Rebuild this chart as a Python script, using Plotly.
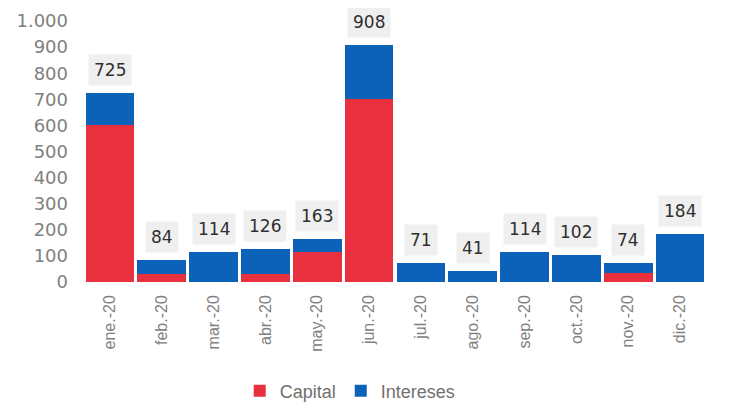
import plotly.graph_objects as go

months = ["ene.-20", "feb.-20", "mar.-20", "abr.-20", "may.-20", "jun.-20",
          "jul.-20", "ago.-20", "sep.-20", "oct.-20", "nov.-20", "dic.-20"]
totals = [725, 84, 114, 126, 163, 908, 71, 41, 114, 102, 74, 184]
capital = [600, 30, 0, 30, 115, 700, 0, 0, 0, 0, 35, 0]
intereses = [t - c for t, c in zip(totals, capital)]
y_ticks = [0, 100, 200, 300, 400, 500, 600, 700, 800, 900, 1000]
y_tick_text = ["0", "100", "200", "300", "400", "500", "600", "700", "800", "900", "1.000"]

RED = "#E8303E"
BLUE = "#0C62B9"
SANS = "Liberation Sans, Arial, sans-serif"
WIDE = "DejaVu Sans, Verdana, sans-serif"

fig = go.Figure()
fig.add_trace(go.Bar(x=months, y=capital, name="Capital", marker=dict(color=RED, line=dict(width=0))))
fig.add_trace(go.Bar(x=months, y=intereses, name="Intereses", marker=dict(color=BLUE, line=dict(width=0))))

for m, t in zip(months, totals):
    fig.add_annotation(x=m, y=t, text=str(t), showarrow=False, yshift=23,
                       font=dict(family=WIDE, size=17, color="#2f2f2f"),
                       bgcolor="#EFEFEF", borderpad=5)

fig.update_layout(
    barmode="stack",
    bargap=0.06,
    width=730, height=410,
    margin=dict(l=76, r=32, t=13, b=136, autoexpand=False),
    paper_bgcolor="white", plot_bgcolor="white",
    font=dict(family=SANS, color="#777777"),
    showlegend=True,
    legend=dict(orientation="h", x=0.428, xanchor="center", y=-0.418, yanchor="middle",
                font=dict(family=SANS, size=18, color="#707070"), itemwidth=30,
                traceorder="normal"),
    xaxis=dict(tickangle=-90, tickfont=dict(family=SANS, size=16, color="#808080"),
               showline=False, ticks="", showgrid=False, ticklabelstandoff=9,
               automargin=False),
    yaxis=dict(range=[0, 1000], tickvals=y_ticks, ticktext=y_tick_text, showgrid=False,
               zeroline=False, showline=False,
               tickfont=dict(family=WIDE, size=18, color="#808080"),
               ticklabelstandoff=15, automargin=False),
)

fig.write_html("out.html")
